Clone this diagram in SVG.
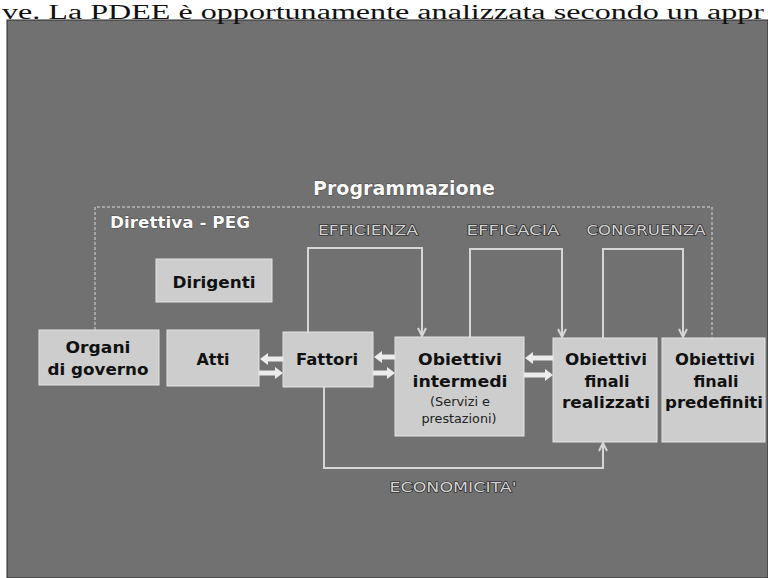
<svg xmlns="http://www.w3.org/2000/svg" width="768" height="578" viewBox="0 0 768 578">
<defs>
<style>
.box{fill:#cdcdcd;stroke:#e4e4e4;stroke-width:1}
.bt{font-family:"DejaVu Sans",Verdana,sans-serif;font-weight:bold;font-size:16px;fill:#111;text-anchor:middle}
.st{font-family:"DejaVu Sans",Verdana,sans-serif;font-size:12px;fill:#222;text-anchor:middle}
.wt{font-family:"DejaVu Sans",Verdana,sans-serif;font-weight:bold;fill:#fafafa;stroke:#1a1a1a;stroke-width:0.6;paint-order:stroke;text-anchor:middle}
.lt{font-family:"DejaVu Sans",Verdana,sans-serif;font-size:14px;fill:#d4d4d4;stroke:#1a1a1a;stroke-width:1.2;paint-order:stroke;text-anchor:middle}
.br{fill:none;stroke:#d6d6d6;stroke-width:2}
.fr{fill:none;stroke:#b8b8b8;stroke-width:1.5;stroke-dasharray:3 2}
.ar{fill:#ececec}
</style>
<marker id="ah" viewBox="0 0 10 10" refX="9" refY="5" markerWidth="5" markerHeight="5" orient="auto">
<path d="M1,1 L9,5 L1,9" fill="none" stroke="#d6d6d6" stroke-width="2"/>
</marker>
</defs>
<rect x="0" y="0" width="768" height="578" fill="#ffffff"/>
<rect x="7" y="20" width="761" height="558" fill="#717171" stroke="#2a2a2a" stroke-width="1"/>
<text x="2" y="18.5" font-family="Liberation Serif, Times New Roman, serif" font-size="20.5" fill="#111" textLength="762" lengthAdjust="spacingAndGlyphs">ve. La PDEE è opportunamente analizzata secondo un appr</text>

<g id="labels">
<text class="wt" x="404" y="195" font-size="19" textLength="182" lengthAdjust="spacingAndGlyphs">Programmazione</text>
<text class="wt" x="180" y="228" font-size="16" textLength="140" lengthAdjust="spacingAndGlyphs">Direttiva - PEG</text>
<text class="lt" x="368" y="235" textLength="100" lengthAdjust="spacingAndGlyphs">EFFICIENZA</text>
<text class="lt" x="513" y="235" textLength="93" lengthAdjust="spacingAndGlyphs">EFFICACIA</text>
<text class="lt" x="646" y="235" textLength="119" lengthAdjust="spacingAndGlyphs">CONGRUENZA</text>
<text class="lt" x="453" y="492" textLength="127" lengthAdjust="spacingAndGlyphs">ECONOMICITA'</text>
</g>

<g id="connectors">
<path class="fr" d="M95,330 V207 H712 V338"/>
<path class="br" d="M308,332 V248 H422 V336" marker-end="url(#ah)"/>
<path class="br" d="M470,337 V249 H562 V337" marker-end="url(#ah)"/>
<path class="br" d="M603,338 V249 H683 V337" marker-end="url(#ah)"/>
<path class="br" d="M324,387 V468 H603 V443" marker-end="url(#ah)"/>
<polygon class="ar" points="260,359 268,353 268,356.5 283,356.5 283,361.5 268,361.5 268,365"/>
<polygon class="ar" points="283,373 275,367 275,370.5 259,370.5 259,375.5 275,375.5 275,379"/>
<polygon class="ar" points="374,357 382,351 382,354.5 395,354.5 395,359.5 382,359.5 382,363"/>
<polygon class="ar" points="395,373 387,367 387,370.5 373,370.5 373,375.5 387,375.5 387,379"/>
<polygon class="ar" points="525,358 533,352 533,355.5 553,355.5 553,360.5 533,360.5 533,364"/>
<polygon class="ar" points="553,375 545,369 545,372.5 524,372.5 524,377.5 545,377.5 545,381"/>
</g>

<g id="dirigenti">
<rect class="box" x="156" y="259" width="116" height="43"/>
<text class="bt" x="214" y="288" textLength="83" lengthAdjust="spacingAndGlyphs">Dirigenti</text>
</g>
<g id="organi">
<rect class="box" x="39" y="330" width="120" height="55"/>
<text class="bt" x="98" y="353" textLength="65" lengthAdjust="spacingAndGlyphs">Organi</text>
<text class="bt" x="98" y="375" textLength="101" lengthAdjust="spacingAndGlyphs">di governo</text>
</g>
<g id="atti">
<rect class="box" x="167" y="330" width="92" height="56"/>
<text class="bt" x="213" y="365" textLength="33" lengthAdjust="spacingAndGlyphs">Atti</text>
</g>
<g id="fattori">
<rect class="box" x="283" y="332" width="90" height="55"/>
<text class="bt" x="327" y="365" textLength="62" lengthAdjust="spacingAndGlyphs">Fattori</text>
</g>
<g id="intermedi">
<rect class="box" x="395" y="337" width="129" height="99"/>
<text class="bt" x="460" y="365" textLength="84" lengthAdjust="spacingAndGlyphs">Obiettivi</text>
<text class="bt" x="460" y="387" textLength="95" lengthAdjust="spacingAndGlyphs">intermedi</text>
<text class="st" x="460" y="406" textLength="60" lengthAdjust="spacingAndGlyphs">(Servizi e</text>
<text class="st" x="459" y="423" textLength="75" lengthAdjust="spacingAndGlyphs">prestazioni)</text>
</g>
<g id="realizzati">
<rect class="box" x="553" y="338" width="104" height="104"/>
<text class="bt" x="606" y="365" textLength="82" lengthAdjust="spacingAndGlyphs">Obiettivi</text>
<text class="bt" x="607" y="387">finali</text>
<text class="bt" x="606" y="408" textLength="88" lengthAdjust="spacingAndGlyphs">realizzati</text>
</g>
<g id="predefiniti">
<rect class="box" x="662" y="338" width="103" height="104"/>
<text class="bt" x="715" y="365" textLength="80" lengthAdjust="spacingAndGlyphs">Obiettivi</text>
<text class="bt" x="716" y="387">finali</text>
<text class="bt" x="714" y="408" textLength="98" lengthAdjust="spacingAndGlyphs">predefiniti</text>
</g>
</svg>
